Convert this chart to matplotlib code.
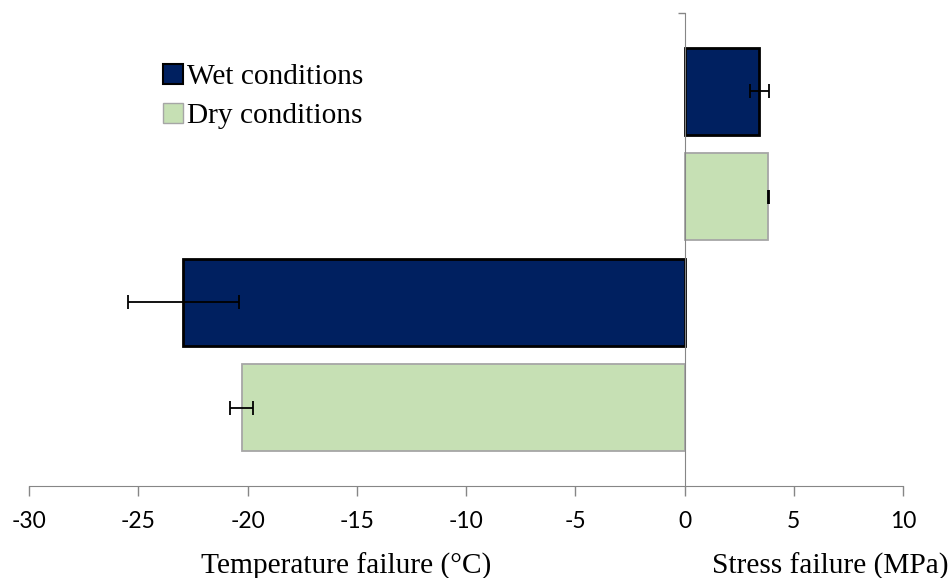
import matplotlib
matplotlib.use("Agg")
import matplotlib.pyplot as plt
from matplotlib.patches import Patch

# bars from bottom to top
labels = ["Dry temperature", "Wet temperature", "Dry stress", "Wet stress"]
values = [-20.27, -22.93, 3.84, 3.43]
errors = [0.53, 2.54, 0.03, 0.43]
conditions = ["dry", "wet", "dry", "wet"]
xticks = [-30, -25, -20, -15, -10, -5, 0, 5, 10]

colors = {"wet": "#002060", "dry": "#C6E0B4"}
edges = {"wet": "#000000", "dry": "#A6A6A6"}
edge_w = {"wet": 2.0, "dry": 1.3}

fig = plt.figure(figsize=(9.51, 5.78), dpi=100)
ax = fig.add_axes([29 / 951, (578 - 486) / 578, (903 - 29) / 951, (486 - 13) / 578])

pos = list(range(len(values)))
for p, v, e, c in zip(pos, values, errors, conditions):
    ax.barh(p, v, height=0.825, color=colors[c], edgecolor=edges[c],
            linewidth=edge_w[c], zorder=2)
    ax.errorbar(v, p, xerr=e, fmt="none", ecolor="black", elinewidth=1.3,
                capsize=5, capthick=1.3, zorder=4)

ax.set_xlim(-30, 10)
ax.set_ylim(-0.744, 3.74)
ax.set_xticks(xticks)
ax.set_xticklabels([str(t) for t in xticks], fontfamily="Lato", fontsize=16.5)
ax.tick_params(axis="x", direction="out", length=7, width=1, color="#868686", pad=11)

for s in ["top", "right"]:
    ax.spines[s].set_visible(False)
ax.spines["bottom"].set_color("#868686")
ax.spines["left"].set_position(("data", 0))
ax.spines["left"].set_color("#868686")
ax.spines["left"].set_zorder(3)
ax.set_yticks([3.74])
ax.set_yticklabels([""])
ax.tick_params(axis="y", direction="out", length=5, width=1, color="#868686")

fig.text(346 / 951, 1 - 566 / 578, "Temperature failure (°C)", ha="center", va="center",
         fontfamily="Liberation Serif", fontsize=21.2)
fig.text(948 / 951, 1 - 566 / 578, "Stress failure (MPa)", ha="right", va="center",
         fontfamily="Liberation Serif", fontsize=21.2)

handles = [Patch(facecolor=colors["wet"], edgecolor="black", linewidth=1.5, label="Wet conditions"),
           Patch(facecolor=colors["dry"], edgecolor="#A6A6A6", linewidth=1.0, label="Dry conditions")]
fig.legend(handles=handles, loc="upper left", bbox_to_anchor=(163 / 951, 1 - 64 / 578),
           frameon=False, prop={"family": "Liberation Serif", "size": 21.2},
           handlelength=0.68, handleheight=0.68, handletextpad=0.15,
           labelspacing=0.42, borderaxespad=0, borderpad=0)

fig.savefig("out.png", dpi=100)
